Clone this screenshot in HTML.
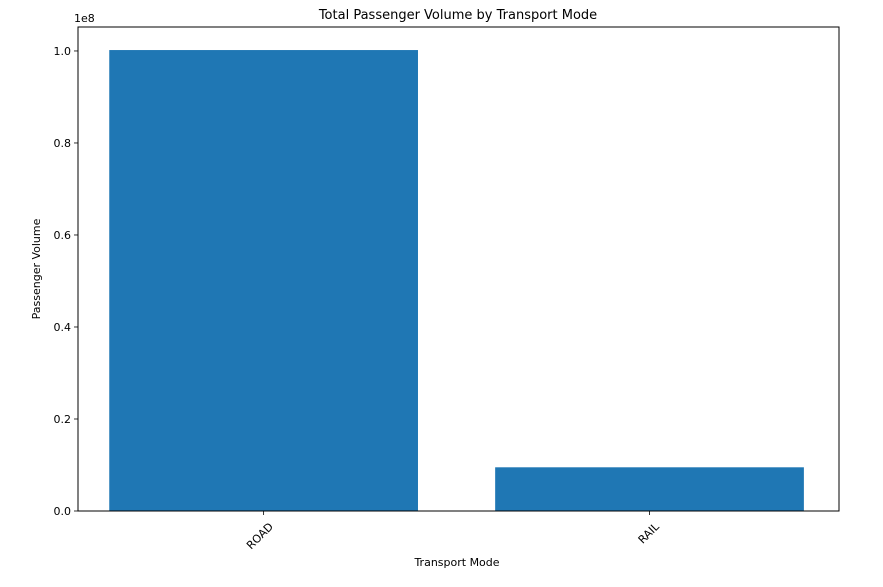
<!DOCTYPE html>
<html><head><meta charset="utf-8"><style>
body{margin:0;background:#fff;}
svg{display:block;font-family:"DejaVu Sans","Liberation Sans",sans-serif;}
</style></head><body>
<svg id="chart" width="883" height="587" viewBox="0 0 883 587">
<rect width="883" height="587" fill="#fff"/>
<g id="bars"></g>
<g id="axes"></g>
<text x="458" y="19" text-anchor="middle" font-size="13">Total Passenger Volume by Transport Mode</text>
<text x="457" y="566" text-anchor="middle" font-size="11">Transport Mode</text>
<text transform="translate(40,269) rotate(-90)" text-anchor="middle" font-size="11">Passenger Volume</text>
<text x="74" y="22" font-size="11">1e8</text>
</svg>
<script>
const categories = ["ROAD", "RAIL"];
const values = [100200000, 9500000];
const yTicks = [0, 0.2e8, 0.4e8, 0.6e8, 0.8e8, 1.0e8];
const yTickLabels = ["0.0", "0.2", "0.4", "0.6", "0.8", "1.0"];

const NS = "http://www.w3.org/2000/svg";
const L = 78, R = 839, T = 27, B = 511;
const yMax = Math.max(...values) * 1.05;
const y = v => B - v / yMax * (B - T);
const xMin = -0.481, xMax = categories.length - 1 + 0.491;
const x = i => L + (i - xMin) / (xMax - xMin) * (R - L);
const unit = (R - L) / (xMax - xMin);
function mk(tag, attrs, parent) {
  const e = document.createElementNS(NS, tag);
  for (const k in attrs) e.setAttribute(k, attrs[k]);
  parent.appendChild(e);
  return e;
}
const gb = document.getElementById("bars"), ga = document.getElementById("axes");
values.forEach((v, i) => {
  const r = mk("rect", {x: x(i) - 0.4 * unit, y: y(v), width: 0.8 * unit, height: B - y(v), fill: "#1f77b4"}, gb);
  
  
  const tk = mk("line", {x1: x(i), x2: x(i), y1: B, y2: B + 4, stroke: "#000", "stroke-width": 0.8}, ga);
  
  
  const t = mk("text", {transform: `translate(${x(i) + 4},${B + 10}) rotate(-45)`, "text-anchor": "end", "font-size": 11, dy: "0.8em"}, ga);
  t.textContent = categories[i];
  
  
});
yTicks.forEach((v, i) => {
  const tk = mk("line", {x1: L - 4, x2: L, y1: y(v), y2: y(v), stroke: "#000", "stroke-width": 0.8}, ga);
  
  
  const t = mk("text", {x: L - 7, y: y(v) + 4, "text-anchor": "end", "font-size": 11}, ga);
  t.textContent = yTickLabels[i];
  
  
});
const frame = mk("rect", {x: L, y: T, width: R - L, height: B - T, fill: "none", stroke: "#000", "stroke-width": 1}, ga);


</script>
</body></html>
